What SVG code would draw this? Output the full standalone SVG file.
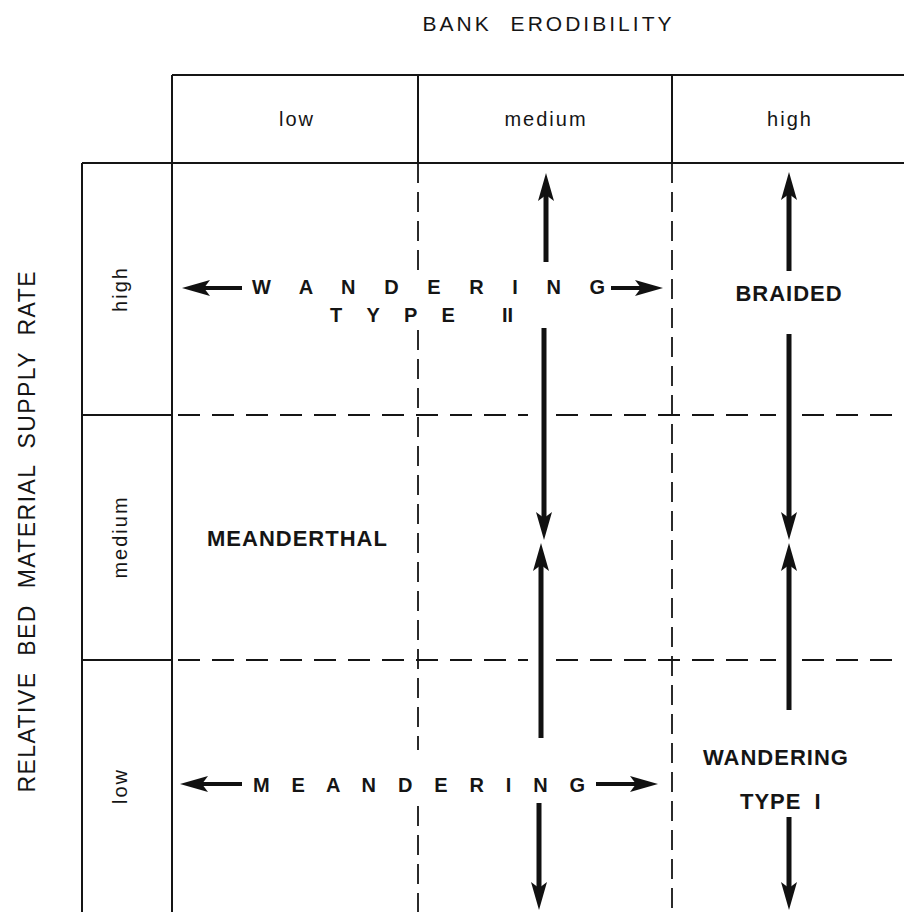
<svg xmlns="http://www.w3.org/2000/svg" width="904" height="912" viewBox="0 0 904 912">
<style>
text { font-family: "Liberation Sans", Arial, Helvetica, sans-serif; fill: #151515; }
.ttl { font-size: 21px; }
.axis { font-size: 23px; word-spacing: 8px; }
.lab { font-size: 20px; letter-spacing: 2px; }
.reg { font-size: 22px; font-weight: bold; letter-spacing: 1px; }
.sp { font-size: 20px; font-weight: bold; }
.solid { stroke: #151515; stroke-width: 2; fill: none; }
.dash { stroke: #151515; stroke-width: 1.8; stroke-dasharray: 22 12; fill: none; }
.dashv { stroke: #151515; stroke-width: 1.8; stroke-dasharray: 20 9; fill: none; }
.arr { stroke: #111; stroke-width: 5; fill: none; marker-end: url(#ah); }
.arrh { stroke: #111; stroke-width: 4; fill: none; marker-end: url(#ah); }
</style>
<defs>
<marker id="ah" markerUnits="userSpaceOnUse" viewBox="0 -9 30 18" markerWidth="30" markerHeight="18" refX="8" refY="0" orient="auto">
<path d="M30,0 L2,-8 L8,0 L2,8 Z" fill="#111"/>
</marker>
</defs>
<rect width="904" height="912" fill="#fff"/>

<g id="title">
<text class="ttl" x="547" y="31" text-anchor="middle" textLength="249" style="word-spacing:10px">BANK ERODIBILITY</text>
</g>
<g id="axis-y-label">
<text class="axis" transform="translate(35,532) rotate(-90)" text-anchor="middle" textLength="521">RELATIVE BED MATERIAL SUPPLY RATE</text>
</g>

<g id="grid">
<path class="solid" d="M172,75 H904 M172,75 V912 M82,163 H904 M418,75 V163 M672,75 V163 M82,163 V912 M82,415 H172 M82,660 H172"/>
<path class="dash" d="M178,415 H528 M556,415 H776 M802,415 H904 M178,660 H528 M556,660 H776 M802,660 H904"/>
<path class="dashv" d="M418,163 V272 M418,330 V750 M418,806 V912 M672,163 V912"/>
</g>

<g id="col-low"><text class="lab" x="297" y="126" text-anchor="middle">low</text></g>
<g id="col-medium"><text class="lab" x="546" y="126" text-anchor="middle">medium</text></g>
<g id="col-high"><text class="lab" x="790" y="126" text-anchor="middle">high</text></g>

<g id="row-high"><text class="lab" transform="translate(127,289) rotate(-90)" text-anchor="middle">high</text></g>
<g id="row-medium"><text class="lab" transform="translate(127,537) rotate(-90)" text-anchor="middle">medium</text></g>
<g id="row-low"><text class="lab" transform="translate(127,786) rotate(-90)" text-anchor="middle">low</text></g>

<g id="wandering-type-ii">
<text class="sp" x="252" y="294" textLength="353">W A N D E R I N G</text>
<text class="sp" y="322"><tspan x="330" style="letter-spacing:9.5px">T Y P E</tspan> <tspan x="502">II</tspan></text>
</g>
<g id="braided"><text class="reg" x="789" y="301" text-anchor="middle">BRAIDED</text></g>
<g id="meanderthal"><text class="reg" x="207" y="546">MEANDERTHAL</text></g>
<g id="meandering"><text class="sp" x="253" y="792" textLength="332">M E A N D E R I N G</text></g>
<g id="wandering-type-i">
<text class="reg" x="776" y="765" text-anchor="middle">WANDERING</text>
<text class="reg" x="740" y="809" style="word-spacing:6px">TYPE I</text>
</g>

<g id="connectors">
<path class="arr" d="M546,262 V195"/>
<path class="arr" d="M544,328 V518"/>
<path class="arr" d="M541,738 V565"/>
<path class="arr" d="M539,803 V888"/>
<path class="arr" d="M789,271 V194"/>
<path class="arr" d="M789,334 V518"/>
<path class="arr" d="M789,710 V565"/>
<path class="arr" d="M789,817 V888"/>
<path class="arrh" d="M242,288 H204"/>
<path class="arrh" d="M611,288 H641"/>
<path class="arrh" d="M242,784 H202"/>
<path class="arrh" d="M596,784 H636"/>
</g>
</svg>
